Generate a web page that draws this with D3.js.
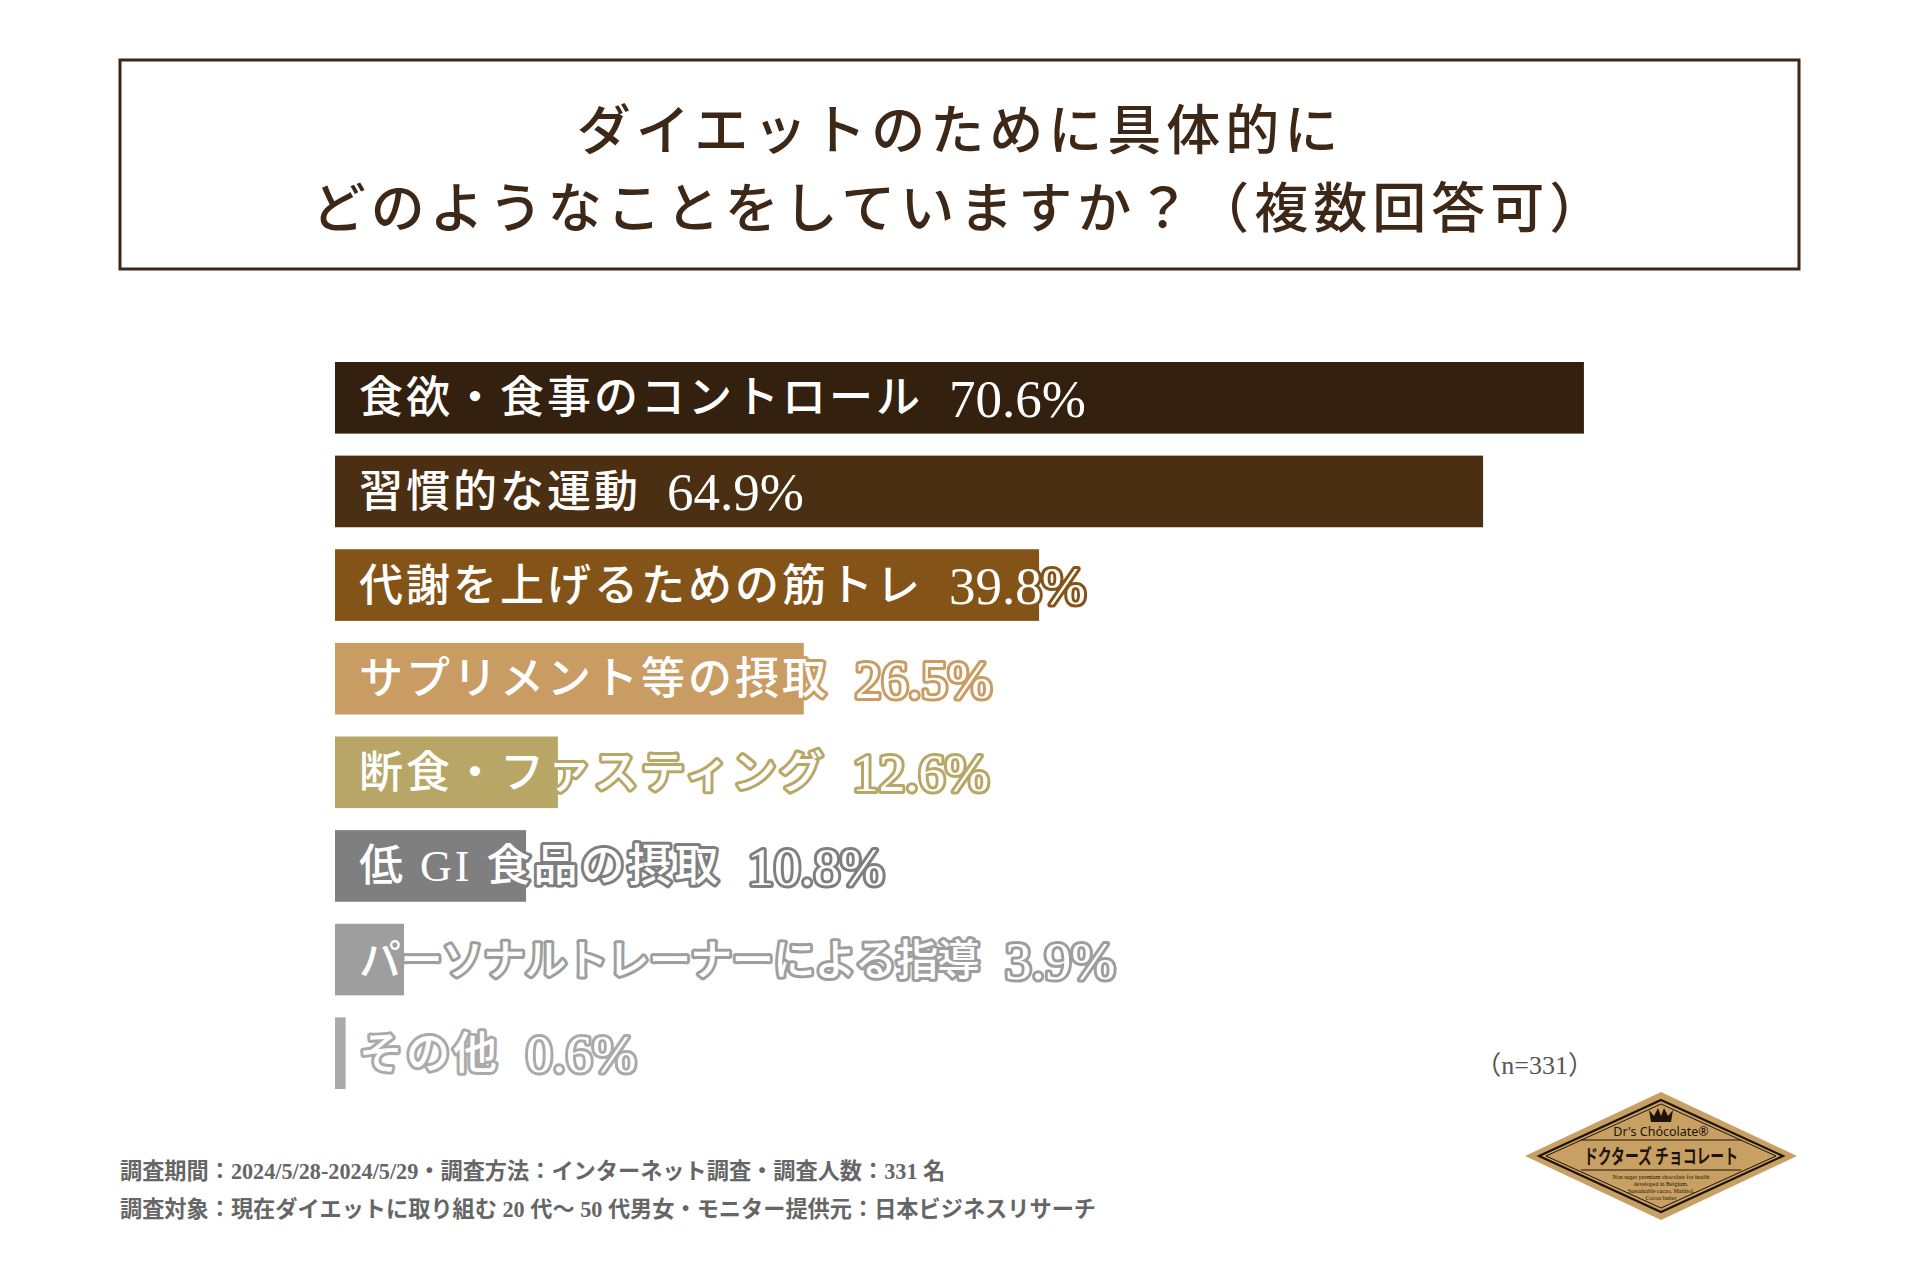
<!DOCTYPE html>
<html>
<head>
<meta charset="utf-8">
<script src="https://cdn.jsdelivr.net/npm/d3@7"></script>
<style>
  body { margin: 0; background: #fff; }
</style>
</head>
<body>
<div class="chart"></div>
<script>
// data
const categories = [
  "食欲・食事のコントロール",
  "習慣的な運動",
  "代謝を上げるための筋トレ",
  "サプリメント等の摂取",
  "断食・ファスティング",
  "低 GI 食品の摂取",
  "パーソナルトレーナーによる指導",
  "その他"
]
const values = [70.6, 64.9, 39.8, 26.5, 12.6, 10.8, 3.9, 0.6]
const barColors = ["#33200f", "#4b2f13", "#845317", "#c99c63", "#b8a666", "#7f7f7f", "#9e9e9e", "#aaaaaa"]
const titleLines = ["ダイエットのために具体的に", "どのようなことをしていますか？（複数回答可）"]
const notes = [
  "調査期間：2024/5/28-2024/5/29・調査方法：インターネット調査・調査人数：331 名",
  "調査対象：現在ダイエットに取り組む 20 代〜 50 代男女・モニター提供元：日本ビジネスリサーチ"
]
const sampleNote = "（n=331）"
const logoLines = ["Non suger premium chocolate for health", "developed in Belgium.", "Sustainable cacao, Maltitol,", "Cocoa butter"]

const w = 1920
const h = 1280
const jp = "'Liberation Serif', 'Noto Sans CJK JP', serif"
const brown = "#3d2817"

const data = categories.map((c, i) => ({ name: c, value: values[i], color: barColors[i] }))

const svg = d3.select(".chart")
  .append("svg")
  .attr("width", w)
  .attr("height", h)
  .style("background-color", "#fff")

// ---- title box ----
svg.append("rect")
  .attr("x", 120).attr("y", 60)
  .attr("width", 1679).attr("height", 209)
  .attr("fill", "none")
  .attr("stroke", brown)
  .attr("stroke-width", 3)

svg.selectAll(".title")
  .data(titleLines)
  .enter()
  .append("text")
  .attr("class", "title")
  .attr("x", 960)
  .attr("y", (d, i) => 132 + i * 78)
  .attr("text-anchor", "middle")
  .attr("dominant-baseline", "central")
  .style("font-family", jp)
  .style("font-size", "54px")
  .style("font-weight", 500)
  .style("letter-spacing", "5px")
  .style("fill", brown)
  .text(d => d)

// ---- bars ----
const left = 335
const xScale = d3.scaleLinear()
  .domain([0, 100])
  .range([0, 1769])

const yScale = d3.scaleBand()
  .domain(categories)
  .range([362, 1089])
  .paddingInner(0.235)

svg.selectAll(".bar")
  .data(data)
  .enter()
  .append("rect")
  .attr("class", "bar")
  .attr("x", left)
  .attr("y", d => yScale(d.name))
  .attr("width", d => xScale(d.value))
  .attr("height", yScale.bandwidth())
  .style("fill", d => d.color)

// white labels, outlined in the bar colour so they still show off the bar
const outlined = sel => sel
  .attr("dominant-baseline", "central")
  .style("fill", "#fff")
  .style("stroke", d => d.color)
  .style("stroke-width", 6)
  .style("stroke-linejoin", "round")
  .style("paint-order", "stroke")

const labelX = left + 24
const maxLabel = 620   // long names get tightened, like in the original

const names = svg.selectAll(".name")
  .data(data)
  .enter()
  .append("text")
  .attr("class", "name")
  .attr("x", labelX)
  .attr("y", d => yScale(d.name) + yScale.bandwidth() / 2 + 1)
  .style("font-family", jp)
  .style("font-size", "44px")
  .style("font-weight", 500)
  .style("letter-spacing", "3px")
  .call(outlined)
  .text(d => d.name)

names.each(function (d) {
  const t = d3.select(this)
  let len = this.getComputedTextLength()
  if (len > maxLabel) {
    t.style("font-size", "42px").style("letter-spacing", "0px")
    const base = this.getComputedTextLength()
    t.style("letter-spacing", ((maxLabel - base) / d.name.length) + "px")
    len = this.getComputedTextLength()
  }
  d.labelEnd = labelX + len
})

svg.selectAll(".value")
  .data(data)
  .enter()
  .append("text")
  .attr("class", "value")
  .attr("x", d => d.labelEnd + 26)
  .attr("y", d => yScale(d.name) + yScale.bandwidth() / 2 + 1)
  .style("font-family", "'Liberation Serif', serif")
  .style("font-size", "53px")
  .call(outlined)
  .text(d => d.value.toFixed(1) + "%")

// ---- notes ----
svg.append("text")
  .attr("x", 1594)
  .attr("y", 1065)
  .attr("text-anchor", "end")
  .attr("dominant-baseline", "central")
  .style("font-family", jp)
  .style("font-size", "26px")
  .style("fill", "#555")
  .text(sampleNote)

svg.selectAll(".note")
  .data(notes)
  .enter()
  .append("text")
  .attr("class", "note")
  .attr("x", 120)
  .attr("y", (d, i) => 1171 + i * 38)
  .attr("dominant-baseline", "central")
  .style("font-family", jp)
  .style("font-size", "22.2px")
  .style("font-weight", 700)
  .style("fill", "#666")
  .text(d => d)

// ---- logo ----
const logo = svg.append("g").attr("transform", "translate(1661,1156)")
const gold = "#c9a063"
const ink = "#1c140b"
const diamond = (rx, ry) => [[-rx, 0], [0, -ry], [rx, 0], [0, ry]].map(p => p.join(",")).join(" ")

logo.append("polygon").attr("points", diamond(136, 64)).attr("fill", gold)
logo.append("polygon").attr("points", diamond(122, 56)).attr("fill", "none").attr("stroke", ink).attr("stroke-width", 2.2)
logo.append("polygon").attr("points", diamond(115, 52)).attr("fill", "none").attr("stroke", ink).attr("stroke-width", 1)

// crown
logo.append("path")
  .attr("d", "M-10,-34 L-12,-46 L-7,-40 L-3,-48 L0,-40 L3,-48 L7,-40 L12,-46 L10,-34 Z")
  .attr("fill", ink)

logo.append("text")
  .attr("x", 0).attr("y", -25)
  .attr("text-anchor", "middle")
  .attr("dominant-baseline", "central")
  .style("font-family", "'Noto Sans', sans-serif")
  .style("font-size", "12.5px")
  .style("fill", ink)
  .text("Dr's Chócolate®")

logo.append("line").attr("x1", -80).attr("x2", 80).attr("y1", -16).attr("y2", -16).attr("stroke", ink).attr("stroke-width", 1)
logo.append("line").attr("x1", -80).attr("x2", 80).attr("y1", 14).attr("y2", 14).attr("stroke", ink).attr("stroke-width", 1)

logo.append("text")
  .attr("x", 0).attr("y", -1)
  .attr("text-anchor", "middle")
  .attr("dominant-baseline", "central")
  .style("font-family", "'Noto Sans CJK JP', sans-serif")
  .style("font-size", "20px")
  .style("font-weight", 700)
  .attr("textLength", 154)
  .attr("lengthAdjust", "spacingAndGlyphs")
  .style("fill", ink)
  .text("ドクターズ チョコレート")

logo.selectAll(".small")
  .data(logoLines)
  .enter()
  .append("text")
  .attr("class", "small")
  .attr("x", 0)
  .attr("y", (d, i) => 21 + i * 7)
  .attr("text-anchor", "middle")
  .attr("dominant-baseline", "central")
  .style("font-family", "'Liberation Serif', serif")
  .style("font-size", "6px")
  .style("fill", ink)
  .text(d => d)
</script>
</body>
</html>
